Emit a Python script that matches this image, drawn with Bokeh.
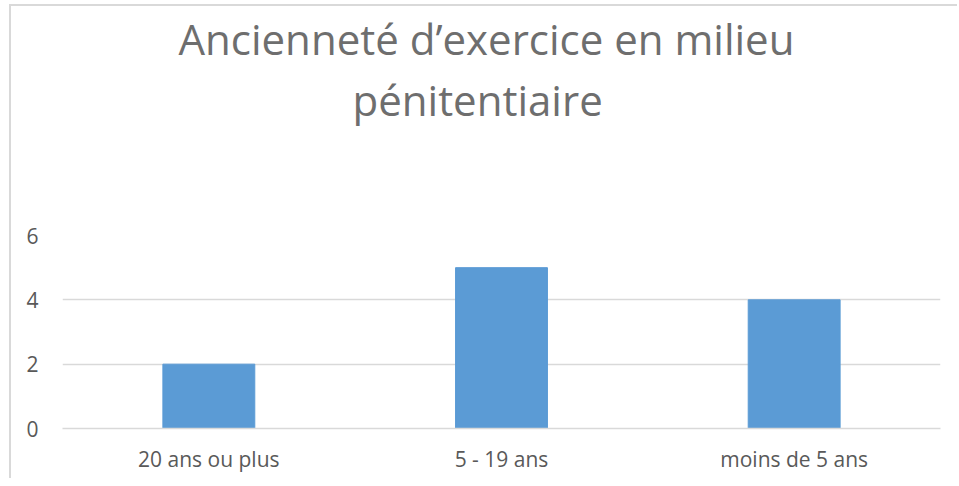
from bokeh.plotting import figure
from bokeh.models import Range1d, FixedTicker, Title
from bokeh.embed import file_html
from bokeh.resources import INLINE

categories = ["20 ans ou plus", "5 - 19 ans", "moins de 5 ans"]
values = [2, 5, 4]
y_ticks = [0, 2, 4, 6]
title_lines = ["Ancienneté d\u2019exercice en milieu", "pénitentiaire"]

W, H = 948, 474
p = figure(x_range=categories, y_range=Range1d(0, 6), width=W, height=H,
           output_backend="svg", toolbar_location=None,
           min_border_left=51, min_border_right=19, min_border_top=228, min_border_bottom=52)
p.styles = {"margin-left": "9px", "margin-top": "4px",
            "border-left": "2px solid #d9d9d9", "border-top": "2px solid #d9d9d9"}
p.vbar(x=categories, top=values, width=0.314, color="#5B9BD5")

p.outline_line_color = None
p.background_fill_color = "white"
p.border_fill_color = "white"

p.xgrid.grid_line_color = None
p.ygrid.grid_line_color = "#d9d9d9"
p.ygrid.grid_line_width = 1.5

p.yaxis.ticker = FixedTicker(ticks=y_ticks)
p.yaxis.axis_line_color = None
p.yaxis.major_tick_line_color = None
p.yaxis.minor_tick_line_color = None
p.yaxis.major_tick_out = 0
p.yaxis.minor_tick_out = 0
p.yaxis.major_label_text_font = "Open Sans"
p.yaxis.major_label_text_font_size = "21px"
p.yaxis.major_label_text_color = "#595959"
p.yaxis.major_label_standoff = 24

p.xaxis.axis_line_color = "#d9d9d9"
p.xaxis.axis_line_width = 1.5
p.xaxis.major_tick_line_color = None
p.xaxis.minor_tick_line_color = None
p.xaxis.major_tick_out = 0
p.xaxis.minor_tick_out = 0
p.xaxis.major_label_text_font = "Open Sans"
p.xaxis.major_label_text_font_size = "21px"
p.xaxis.major_label_text_color = "#595959"
p.xaxis.major_label_standoff = 16

# spacer nearest the plot, then the lower title line, then the upper one
p.add_layout(Title(text=" ", text_font_size="10px", standoff=94), "above")
for line, off in [(title_lines[1], 290), (title_lines[0], 116)]:
    p.add_layout(Title(text=line, align="left", offset=off, standoff=2,
                       text_font="Open Sans", text_font_size="42px",
                       text_font_style="normal", text_color="#6e6e6e"), "above")

open("out.html", "w").write(file_html(p, INLINE))
